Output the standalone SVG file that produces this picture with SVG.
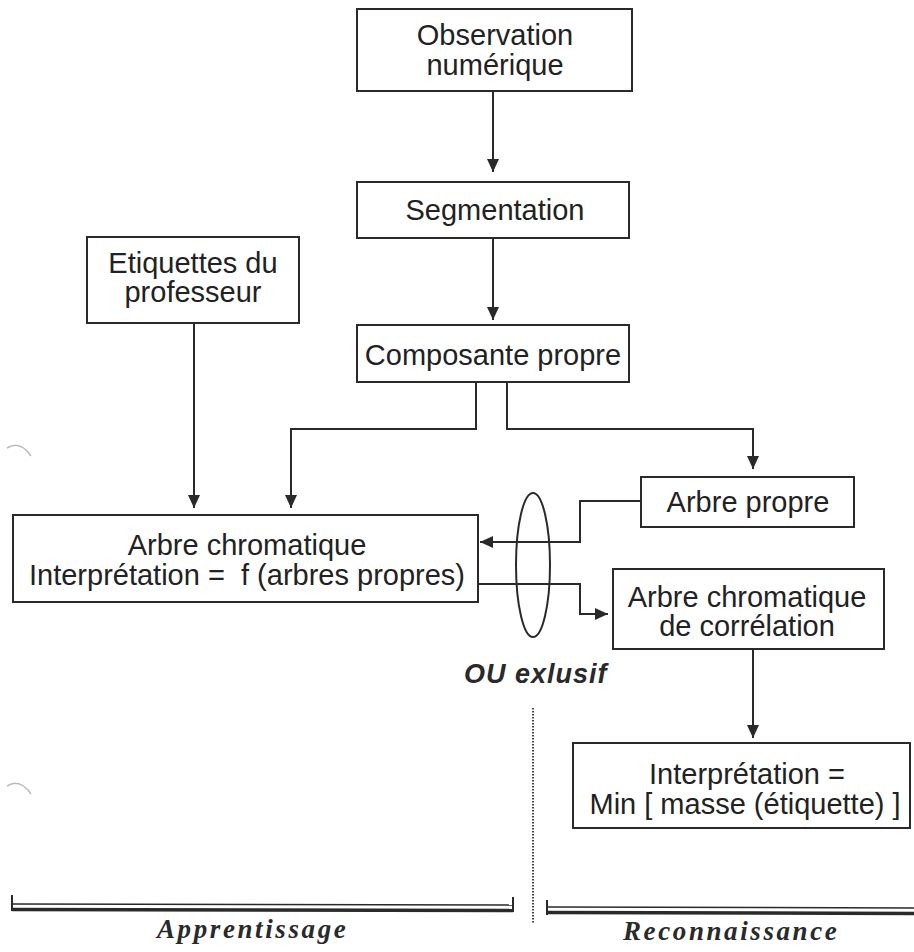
<svg xmlns="http://www.w3.org/2000/svg" width="914" height="952" viewBox="0 0 914 952">
<style>
.box{fill:#fff;stroke:#2a2a2a;stroke-width:2}
.t{font-family:"Liberation Sans",Arial,sans-serif;font-size:29px;fill:#222;text-anchor:middle}
.c{fill:none;stroke:#2a2a2a;stroke-width:2}
.ou{font-family:"Liberation Sans",Arial,sans-serif;font-size:27px;font-weight:bold;font-style:italic;fill:#2a2a2a;letter-spacing:1px}
.ph{font-family:"Liberation Serif","Times New Roman",serif;font-size:27px;font-weight:bold;font-style:italic;fill:#2a2a2a;letter-spacing:2.6px}
.br{fill:none;stroke:#2a2a2a}
</style>
<defs>
<marker id="ah" markerUnits="userSpaceOnUse" markerWidth="14" markerHeight="14" refX="13" refY="6" orient="auto">
<path d="M0,0 L13,6 L0,12 z" fill="#2a2a2a"/>
</marker>
</defs>
<rect width="914" height="952" fill="#fff"/>

<g id="observation">
<rect class="box" x="357" y="9" width="275" height="82"/>
<text class="t" x="495" y="45">Observation</text>
<text class="t" x="495" y="75">numérique</text>
</g>
<g id="segmentation">
<rect class="box" x="357" y="182" width="272" height="56"/>
<text class="t" x="495" y="220">Segmentation</text>
</g>
<g id="composante">
<rect class="box" x="357" y="325" width="272" height="57"/>
<text class="t" x="493" y="365">Composante propre</text>
</g>
<g id="etiquettes">
<rect class="box" x="87" y="237" width="212" height="86"/>
<text class="t" x="193" y="273">Etiquettes du</text>
<text class="t" x="193" y="302">professeur</text>
</g>
<g id="arbre-chromatique">
<rect class="box" x="13" y="515" width="465" height="87"/>
<text class="t" x="247" y="555">Arbre chromatique</text>
<text class="t" x="247" y="585" xml:space="preserve">Interprétation =  f (arbres propres)</text>
</g>
<g id="arbre-propre">
<rect class="box" x="641" y="477" width="213" height="50"/>
<text class="t" x="748" y="512">Arbre propre</text>
</g>
<g id="correlation">
<rect class="box" x="613" y="569" width="271" height="80"/>
<text class="t" x="747" y="607">Arbre chromatique</text>
<text class="t" x="747" y="636">de corrélation</text>
</g>
<g id="interpretation">
<rect class="box" x="573" y="743" width="337" height="85"/>
<text class="t" x="747" y="784">Interprétation =</text>
<text class="t" x="745" y="814">Min [ masse (étiquette) ]</text>
</g>

<g id="connectors">
<path class="c" d="M493,91 V172" marker-end="url(#ah)"/>
<path class="c" d="M493,238 V320" marker-end="url(#ah)"/>
<path class="c" d="M194,323 V508" marker-end="url(#ah)"/>
<path class="c" d="M476,382 V429 H291 V508" marker-end="url(#ah)"/>
<path class="c" d="M507,382 V429 H753 V469" marker-end="url(#ah)"/>
<path class="c" d="M641,501 H580 V542 H480" marker-end="url(#ah)"/>
<path class="c" d="M478,584 H580 V614 H608" marker-end="url(#ah)"/>
<path class="c" d="M753,649 V738" marker-end="url(#ah)"/>
</g>

<g id="ou-exclusif">
<ellipse cx="533" cy="565" rx="17" ry="72" fill="none" stroke="#2a2a2a" stroke-width="2"/>
<text class="ou" x="464" y="683">OU exlusif</text>
</g>

<g id="phases">
<line x1="533" y1="708" x2="533" y2="923" stroke="#444" stroke-width="2" stroke-dasharray="1.5,1.5"/>
<path class="br" stroke-width="2" d="M12,895 V911"/>
<path class="br" stroke-width="2" d="M513,897 V912"/>
<line class="br" stroke-width="1.5" x1="12" y1="904" x2="513" y2="905"/>
<line class="br" stroke-width="3.5" x1="12" y1="909.5" x2="513" y2="910.5"/>
<path class="br" stroke-width="2" d="M547,900 V915"/>
<line class="br" stroke-width="1.5" x1="547" y1="907" x2="914" y2="908"/>
<line class="br" stroke-width="3.5" x1="547" y1="912.5" x2="914" y2="913.5"/>
<text class="ph" x="157" y="938">Apprentissage</text>
<text class="ph" x="623" y="940">Reconnaissance</text>
</g>

<g id="marks" fill="none" stroke="#bbb" stroke-width="1.5">
<path d="M7,448 Q20,440 31,456"/>
<path d="M7,786 Q20,778 31,794"/>
</g>
</svg>
